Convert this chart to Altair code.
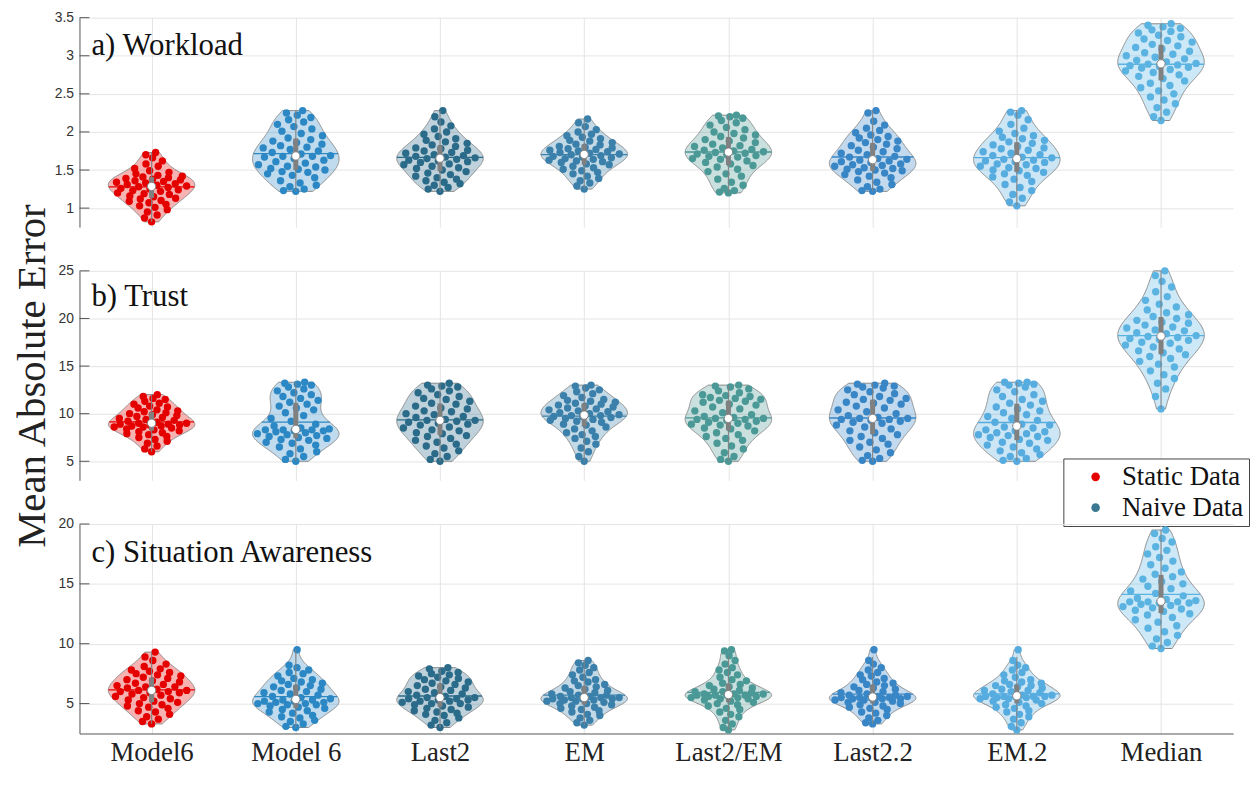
import json
import altair as alt
import numpy as np
import pandas as pd

MODELS = ["Model6", "Model 6", "Last2", "EM", "Last2/EM", "Last2.2", "EM.2", "Median"]
MODEL_COLORS = ["#e50000", "#2c88c4", "#2b6b8a", "#3a80ab", "#4b9996", "#3886c6", "#56acdf", "#5bb3e2"]
LEGEND_LABELS = ["Static Data", "Naive Data"]
LEGEND_COLORS = ["#e50000", "#3a7891"]
PANEL_TITLES = ["a) Workload", "b) Trust", "c) Situation Awareness"]
Y_DOMAINS = [[0.75, 3.5], [3, 25], [2.5, 20]]
Y_TICKS = [[1, 1.5, 2, 2.5, 3, 3.5], [5, 10, 15, 20, 25], [5, 10, 15, 20]]
Y_TITLE = "Mean Absolute Error"

# ---- a) Workload ----
WL_MODEL6 = [0.82, 0.87, 0.91, 0.95, 0.98, 1.01, 1.03, 1.05, 1.07, 1.09, 1.10, 1.12, 1.13, 1.15, 1.16, 1.18, 1.19, 1.20, 1.22, 1.23, 1.24, 1.25, 1.26, 1.27, 1.28, 1.29, 1.30, 1.31, 1.32, 1.33, 1.34, 1.35, 1.36, 1.37, 1.38, 1.39, 1.40, 1.41, 1.42, 1.43, 1.45, 1.47, 1.49, 1.52, 1.55, 1.58, 1.62, 1.66, 1.70, 1.73]
WL_MODEL_6 = [1.22, 1.23, 1.25, 1.28, 1.30, 1.33, 1.36, 1.40, 1.43, 1.45, 1.47, 1.48, 1.50, 1.51, 1.52, 1.54, 1.55, 1.57, 1.59, 1.61, 1.63, 1.65, 1.67, 1.68, 1.68, 1.69, 1.71, 1.73, 1.75, 1.77, 1.79, 1.80, 1.82, 1.84, 1.86, 1.88, 1.90, 1.92, 1.95, 1.98, 2.01, 2.04, 2.07, 2.10, 2.13, 2.16, 2.19, 2.22, 2.25, 2.28]
WL_LAST2 = [1.22, 1.25, 1.27, 1.30, 1.32, 1.34, 1.36, 1.38, 1.40, 1.42, 1.44, 1.46, 1.48, 1.50, 1.52, 1.53, 1.55, 1.57, 1.58, 1.60, 1.61, 1.62, 1.63, 1.64, 1.65, 1.66, 1.67, 1.68, 1.69, 1.70, 1.72, 1.73, 1.75, 1.76, 1.78, 1.79, 1.81, 1.83, 1.85, 1.87, 1.89, 1.91, 1.94, 1.97, 2.00, 2.04, 2.08, 2.13, 2.20, 2.28]
WL_EM = [1.25, 1.29, 1.33, 1.36, 1.39, 1.42, 1.45, 1.47, 1.49, 1.51, 1.53, 1.55, 1.57, 1.58, 1.60, 1.61, 1.62, 1.63, 1.64, 1.65, 1.66, 1.67, 1.68, 1.69, 1.70, 1.71, 1.72, 1.73, 1.74, 1.75, 1.76, 1.77, 1.78, 1.79, 1.80, 1.81, 1.83, 1.84, 1.86, 1.88, 1.89, 1.91, 1.93, 1.95, 1.97, 2.00, 2.03, 2.07, 2.12, 2.17]
WL_LAST2_EM = [1.20, 1.21, 1.23, 1.26, 1.30, 1.34, 1.38, 1.42, 1.45, 1.48, 1.51, 1.54, 1.56, 1.58, 1.60, 1.62, 1.64, 1.65, 1.67, 1.68, 1.69, 1.70, 1.71, 1.72, 1.73, 1.74, 1.75, 1.76, 1.77, 1.79, 1.81, 1.82, 1.84, 1.86, 1.88, 1.90, 1.92, 1.94, 1.96, 1.98, 2.00, 2.03, 2.06, 2.09, 2.12, 2.15, 2.18, 2.20, 2.21, 2.22]
WL_LAST2_2 = [1.22, 1.23, 1.25, 1.28, 1.31, 1.34, 1.37, 1.40, 1.42, 1.44, 1.46, 1.48, 1.49, 1.50, 1.51, 1.52, 1.53, 1.55, 1.56, 1.57, 1.58, 1.60, 1.61, 1.62, 1.63, 1.64, 1.65, 1.67, 1.68, 1.70, 1.72, 1.74, 1.76, 1.78, 1.80, 1.82, 1.84, 1.86, 1.88, 1.90, 1.92, 1.94, 1.96, 1.99, 2.02, 2.05, 2.09, 2.14, 2.25, 2.28]
WL_EM_2 = [1.03, 1.08, 1.13, 1.18, 1.23, 1.27, 1.31, 1.35, 1.38, 1.41, 1.43, 1.45, 1.47, 1.49, 1.50, 1.52, 1.53, 1.55, 1.57, 1.58, 1.60, 1.61, 1.62, 1.63, 1.64, 1.66, 1.67, 1.69, 1.70, 1.72, 1.74, 1.76, 1.78, 1.79, 1.81, 1.83, 1.85, 1.87, 1.89, 1.91, 1.93, 1.95, 1.98, 2.01, 2.05, 2.10, 2.16, 2.22, 2.26, 2.28]
WL_MEDIAN = [2.15, 2.20, 2.26, 2.32, 2.37, 2.42, 2.46, 2.50, 2.54, 2.58, 2.61, 2.64, 2.67, 2.70, 2.73, 2.75, 2.78, 2.80, 2.82, 2.84, 2.85, 2.86, 2.87, 2.88, 2.89, 2.90, 2.92, 2.94, 2.96, 2.98, 3.00, 3.02, 3.04, 3.06, 3.09, 3.11, 3.13, 3.15, 3.18, 3.20, 3.22, 3.25, 3.27, 3.30, 3.32, 3.34, 3.36, 3.38, 3.40, 3.42]

# ---- b) Trust ----
TR_MODEL6 = [6.0, 6.3, 6.6, 6.9, 7.1, 7.3, 7.5, 7.6, 7.8, 7.9, 8.0, 8.1, 8.2, 8.3, 8.4, 8.5, 8.6, 8.6, 8.7, 8.7, 8.8, 8.8, 8.9, 8.9, 9.0, 9.0, 9.1, 9.2, 9.3, 9.4, 9.5, 9.6, 9.7, 9.8, 9.9, 10.0, 10.1, 10.2, 10.3, 10.4, 10.6, 10.7, 10.8, 11.0, 11.1, 11.3, 11.5, 11.6, 11.8, 12.0]
TR_MODEL_6 = [5.0, 5.2, 5.5, 5.8, 6.0, 6.3, 6.5, 6.7, 6.9, 7.0, 7.2, 7.3, 7.4, 7.5, 7.6, 7.7, 7.8, 7.9, 8.0, 8.1, 8.2, 8.2, 8.3, 8.3, 8.3, 8.4, 8.5, 8.7, 8.9, 9.2, 9.5, 9.8, 10.1, 10.4, 10.6, 10.8, 11.0, 11.2, 11.4, 11.6, 11.8, 12.0, 12.2, 12.4, 12.6, 12.8, 13.0, 13.1, 13.2, 13.3]
TR_LAST2 = [5.0, 5.2, 5.5, 5.8, 6.1, 6.4, 6.6, 6.8, 7.0, 7.2, 7.4, 7.6, 7.7, 7.9, 8.0, 8.2, 8.3, 8.5, 8.6, 8.8, 8.9, 9.0, 9.1, 9.2, 9.3, 9.3, 9.4, 9.6, 9.7, 9.9, 10.0, 10.2, 10.3, 10.5, 10.6, 10.8, 11.0, 11.1, 11.3, 11.5, 11.6, 11.8, 12.0, 12.2, 12.4, 12.6, 12.8, 12.9, 13.0, 13.2]
TR_EM = [5.0, 5.5, 6.0, 6.4, 6.8, 7.1, 7.4, 7.6, 7.8, 8.0, 8.2, 8.4, 8.6, 8.8, 8.9, 9.1, 9.2, 9.3, 9.4, 9.5, 9.6, 9.7, 9.7, 9.8, 9.8, 9.9, 10.0, 10.1, 10.2, 10.3, 10.4, 10.5, 10.6, 10.7, 10.8, 10.9, 11.0, 11.1, 11.2, 11.3, 11.4, 11.5, 11.7, 11.9, 12.1, 12.3, 12.5, 12.7, 12.9, 13.0]
TR_LAST2_EM = [5.0, 5.2, 5.5, 5.9, 6.3, 6.6, 6.9, 7.2, 7.4, 7.6, 7.8, 8.0, 8.2, 8.4, 8.5, 8.7, 8.8, 8.9, 9.0, 9.1, 9.2, 9.3, 9.4, 9.4, 9.5, 9.5, 9.6, 9.7, 9.9, 10.1, 10.3, 10.5, 10.7, 10.9, 11.0, 11.2, 11.3, 11.4, 11.5, 11.6, 11.7, 11.8, 11.9, 12.0, 12.2, 12.4, 12.6, 12.8, 12.9, 13.0]
TR_LAST2_2 = [5.0, 5.1, 5.3, 5.6, 5.9, 6.2, 6.5, 6.8, 7.0, 7.2, 7.4, 7.6, 7.8, 8.0, 8.2, 8.4, 8.6, 8.8, 9.0, 9.1, 9.2, 9.3, 9.4, 9.4, 9.5, 9.5, 9.6, 9.8, 10.0, 10.2, 10.4, 10.6, 10.8, 11.0, 11.1, 11.2, 11.4, 11.5, 11.6, 11.8, 12.0, 12.1, 12.3, 12.5, 12.7, 12.8, 12.9, 13.0, 13.1, 13.2]
TR_EM_2 = [5.0, 5.1, 5.3, 5.5, 5.7, 5.9, 6.1, 6.3, 6.5, 6.7, 6.9, 7.0, 7.2, 7.3, 7.5, 7.6, 7.7, 7.8, 7.9, 8.0, 8.1, 8.2, 8.3, 8.5, 8.6, 8.8, 8.9, 9.1, 9.3, 9.5, 9.7, 9.9, 10.1, 10.3, 10.5, 10.7, 10.9, 11.1, 11.3, 11.5, 11.8, 12.0, 12.3, 12.5, 12.8, 13.0, 13.1, 13.2, 13.3, 13.3]
TR_MEDIAN = [10.5, 11.8, 12.6, 13.2, 13.7, 14.1, 14.5, 14.9, 15.2, 15.5, 15.8, 16.0, 16.2, 16.4, 16.6, 16.8, 17.0, 17.2, 17.4, 17.5, 17.7, 17.8, 17.9, 18.0, 18.1, 18.2, 18.4, 18.5, 18.7, 18.8, 19.0, 19.1, 19.3, 19.5, 19.6, 19.8, 20.0, 20.2, 20.4, 20.6, 20.9, 21.2, 21.5, 21.9, 22.3, 22.8, 23.3, 23.9, 24.5, 25.0]

# ---- c) Situation Awareness ----
SA_MODEL6 = [3.3, 3.5, 3.7, 3.9, 4.1, 4.3, 4.4, 4.6, 4.7, 4.8, 4.9, 5.0, 5.1, 5.2, 5.3, 5.4, 5.5, 5.6, 5.7, 5.8, 5.9, 5.9, 6.0, 6.0, 6.1, 6.1, 6.2, 6.3, 6.4, 6.4, 6.5, 6.6, 6.7, 6.8, 6.9, 7.0, 7.1, 7.2, 7.3, 7.4, 7.5, 7.6, 7.7, 7.8, 7.9, 8.1, 8.3, 8.6, 8.9, 9.3]
SA_MODEL_6 = [3.0, 3.1, 3.3, 3.5, 3.6, 3.8, 3.9, 4.0, 4.2, 4.3, 4.4, 4.5, 4.6, 4.7, 4.8, 4.9, 4.9, 5.0, 5.0, 5.1, 5.1, 5.2, 5.2, 5.3, 5.3, 5.4, 5.5, 5.6, 5.7, 5.8, 5.9, 6.0, 6.1, 6.2, 6.3, 6.4, 6.5, 6.6, 6.7, 6.8, 6.9, 7.0, 7.1, 7.3, 7.5, 7.6, 7.8, 8.0, 8.2, 9.5]
SA_LAST2 = [3.0, 3.2, 3.4, 3.6, 3.8, 4.0, 4.1, 4.2, 4.3, 4.4, 4.5, 4.6, 4.7, 4.8, 4.9, 5.0, 5.0, 5.1, 5.2, 5.2, 5.3, 5.3, 5.4, 5.4, 5.5, 5.5, 5.6, 5.7, 5.8, 5.9, 6.0, 6.1, 6.2, 6.3, 6.4, 6.5, 6.6, 6.7, 6.8, 6.9, 7.0, 7.1, 7.2, 7.3, 7.4, 7.5, 7.6, 7.7, 7.9, 8.0]
SA_EM = [3.2, 3.4, 3.6, 3.8, 4.0, 4.1, 4.3, 4.4, 4.5, 4.6, 4.7, 4.8, 4.9, 5.0, 5.0, 5.1, 5.2, 5.2, 5.3, 5.3, 5.4, 5.4, 5.4, 5.5, 5.5, 5.5, 5.6, 5.6, 5.7, 5.7, 5.8, 5.9, 6.0, 6.1, 6.2, 6.3, 6.4, 6.5, 6.6, 6.8, 6.9, 7.0, 7.2, 7.4, 7.6, 7.8, 8.0, 8.2, 8.4, 8.6]
SA_LAST2_EM = [2.8, 3.0, 3.3, 3.6, 3.9, 4.1, 4.3, 4.5, 4.6, 4.8, 4.9, 5.0, 5.1, 5.2, 5.3, 5.4, 5.4, 5.5, 5.5, 5.6, 5.6, 5.7, 5.7, 5.7, 5.7, 5.8, 5.8, 5.8, 5.9, 6.0, 6.0, 6.1, 6.2, 6.3, 6.4, 6.5, 6.6, 6.7, 6.9, 7.0, 7.2, 7.4, 7.6, 7.8, 8.0, 8.3, 8.6, 9.0, 9.4, 9.5]
SA_LAST2_2 = [3.3, 3.4, 3.6, 3.8, 4.0, 4.2, 4.3, 4.5, 4.6, 4.7, 4.8, 4.9, 5.0, 5.1, 5.1, 5.2, 5.3, 5.3, 5.4, 5.4, 5.4, 5.5, 5.5, 5.5, 5.5, 5.6, 5.6, 5.7, 5.7, 5.8, 5.9, 6.0, 6.1, 6.2, 6.3, 6.4, 6.5, 6.6, 6.7, 6.8, 7.0, 7.1, 7.3, 7.4, 7.6, 7.8, 8.0, 8.3, 8.6, 9.5]
SA_EM_2 = [2.8, 3.1, 3.4, 3.7, 3.9, 4.1, 4.3, 4.4, 4.6, 4.7, 4.8, 4.9, 5.0, 5.1, 5.2, 5.3, 5.4, 5.4, 5.5, 5.5, 5.6, 5.6, 5.6, 5.6, 5.6, 5.7, 5.7, 5.8, 5.9, 6.0, 6.1, 6.1, 6.2, 6.3, 6.4, 6.5, 6.5, 6.6, 6.7, 6.8, 6.9, 7.0, 7.2, 7.4, 7.6, 7.8, 8.0, 8.2, 8.6, 9.5]
SA_MEDIAN = [9.6, 9.8, 10.1, 10.4, 10.7, 11.0, 11.3, 11.5, 11.8, 12.0, 12.2, 12.4, 12.5, 12.7, 12.8, 12.9, 13.0, 13.1, 13.2, 13.3, 13.4, 13.4, 13.5, 13.5, 13.5, 13.6, 13.7, 13.8, 14.0, 14.2, 14.4, 14.6, 14.8, 15.0, 15.2, 15.4, 15.6, 15.8, 16.0, 16.3, 16.6, 16.9, 17.2, 17.5, 17.8, 18.1, 18.5, 18.8, 19.2, 19.5]

WORKLOAD = [WL_MODEL6, WL_MODEL_6, WL_LAST2, WL_EM, WL_LAST2_EM, WL_LAST2_2, WL_EM_2, WL_MEDIAN]
TRUST = [TR_MODEL6, TR_MODEL_6, TR_LAST2, TR_EM, TR_LAST2_EM, TR_LAST2_2, TR_EM_2, TR_MEDIAN]
SITUATION = [SA_MODEL6, SA_MODEL_6, SA_LAST2, SA_EM, SA_LAST2_EM, SA_LAST2_2, SA_EM_2, SA_MEDIAN]

# ---- styling ----
W, H = 1162, 211
SPACING = 44
HALF = 0.3
BW_FACTOR = 1.0
GRID = "#e4e4e4"
AXIS_COLOR = "#555555"
SERIF = "Liberation Serif"
SANS = "Liberation Sans"
LABEL_EXPR = json.dumps(MODELS) + "[datum.value - 1]"
TITLE_OFFSETS = [-52, -111, -52]


def kde(at, v, h):
    at = np.asarray(at, float)
    return np.exp(-0.5 * ((at[:, None] - v[None, :]) / h) ** 2).sum(axis=1)


def build_panel(k, groups, show_x, y_title, with_legend):
    xs = alt.Scale(domain=[0.5, 8.5], nice=False, zero=False)
    ys = alt.Scale(domain=Y_DOMAINS[k], nice=False, zero=False)
    xaxis = alt.Axis(values=list(range(1, 9)), grid=True, ticks=False, domain=show_x,
                     labels=show_x, labelExpr=LABEL_EXPR, labelFont=SERIF, labelFontSize=27,
                     labelColor="#222222", labelPadding=6, title=None, domainColor=AXIS_COLOR)
    ykw = dict(values=Y_TICKS[k], format="~g", grid=True, ticks=False, domainColor=AXIS_COLOR,
               labelFont=SANS, labelFontSize=14, labelColor="#333333", labelPadding=6)
    if y_title:
        ykw.update(title=y_title, titleFont=SERIF, titleFontSize=41, titleFontWeight="normal",
                   titleColor="#222222", titlePadding=5)
    else:
        ykw["title"] = None
    yaxis = alt.Axis(**ykw)

    def X(f):
        return alt.X(f, type="quantitative", scale=xs, axis=xaxis)

    def Y(f):
        return alt.Y(f, type="quantitative", scale=ys, axis=yaxis)

    color = alt.Color("model:N", scale=alt.Scale(domain=MODELS, range=MODEL_COLORS), legend=None)

    pts_rows, stat_rows, bws = [], [], []
    for i, (m, vals) in enumerate(zip(MODELS, groups)):
        v = np.asarray(vals, float)
        n = len(v)
        idx = i + 1
        q1, med, q3 = np.percentile(v, [25, 50, 75])
        sd = v.std(ddof=1)
        s = min(sd, (q3 - q1) / 1.34) if q3 > q1 else sd
        h = BW_FACTOR * s * n ** -0.2
        bws.append((m, idx, h, float(v.min()), float(v.max())))
        grid = np.linspace(v.min(), v.max(), 150)
        dmax = kde(grid, v, h).max()
        hw = HALF * kde(v, v, h) / dmax
        u = (0.5 + np.arange(n) * 0.6180339887) % 1.0
        xj = idx + (2 * u - 1) * hw * 0.9
        for val, x in zip(v, xj):
            pts_rows.append({"model": m, "value": float(val), "xj": float(x)})
        mean = float(v.mean())
        mhw = float(HALF * kde([mean], v, h)[0] / dmax)
        iqr = q3 - q1
        wlo = max(q1 - 1.5 * iqr, float(v.min()))
        whi = min(q3 + 1.5 * iqr, float(v.max()))
        stat_rows.append({"model": m, "idx": idx, "med": float(med), "q1": float(q1), "q3": float(q3),
                          "wlo": wlo, "whi": whi, "mean": mean, "mlo": idx - mhw, "mhi": idx + mhw})
    pts = pd.DataFrame(pts_rows)
    stats = pd.DataFrame(stat_rows)

    layers = []
    for m, idx, h, vmin, vmax in bws:
        layers.append(
            alt.Chart(pts)
            .transform_filter(alt.datum.model == m)
            .transform_density("value", as_=["value", "dens"], bandwidth=h, extent=[vmin, vmax],
                               steps=150, groupby=["model"])
            .transform_joinaggregate(dmax="max(dens)")
            .transform_calculate(lo=f"{idx} - {HALF} * datum.dens / datum.dmax",
                                 hi=f"{idx} + {HALF} * datum.dens / datum.dmax")
            .mark_area(orient="horizontal", fillOpacity=0.3, stroke="#8a8a8a", strokeWidth=1)
            .encode(y=Y("value"), x=X("lo"), x2=alt.X2("hi"), color=color)
        )
    layers.append(
        alt.Chart(pts).mark_circle(size=55, opacity=1)
        .encode(x=X("xj"), y=Y("value"), color=color)
    )
    layers.append(
        alt.Chart(stats).mark_rule(strokeWidth=1.3)
        .encode(x=X("mlo"), x2=alt.X2("mhi"), y=Y("mean"), color=color)
    )
    layers.append(
        alt.Chart(stats).mark_rule(strokeWidth=1, color="#808080")
        .encode(x=X("idx"), y=Y("wlo"), y2=alt.Y2("whi"))
    )
    layers.append(
        alt.Chart(stats).mark_rule(strokeWidth=5, color="#808080")
        .encode(x=X("idx"), y=Y("q1"), y2=alt.Y2("q3"))
    )
    layers.append(
        alt.Chart(stats).mark_point(filled=True, fill="white", stroke="#808080", strokeWidth=1,
                                    size=70, opacity=1, shape="circle")
        .encode(x=X("idx"), y=Y("med"))
    )
    layers.append(
        alt.Chart(pd.DataFrame({"t": Y_TICKS[k]})).mark_rule(color=AXIS_COLOR, strokeWidth=1)
        .encode(y=Y("t"), x=alt.value(0), x2=alt.value(10))
    )
    if with_legend:
        layers.append(
            alt.Chart(pd.DataFrame({"dtype": LEGEND_LABELS}))
            .transform_filter("false")
            .mark_circle(opacity=1)
            .encode(fill=alt.Fill("dtype:N",
                                  scale=alt.Scale(domain=LEGEND_LABELS, range=LEGEND_COLORS),
                                  legend=alt.Legend(orient="none", legendX=991, legendY=189,
                                                    title=None, fillColor="white",
                                                    strokeColor="#444444", padding=5,
                                                    labelFont=SERIF, labelFontSize=27,
                                                    labelColor="#111111", symbolType="circle",
                                                    symbolSize=75, symbolStrokeWidth=0,
                                                    symbolOffset=14, labelOffset=13,
                                                    rowPadding=3)))
        )
    title = alt.TitleParams(text=PANEL_TITLES[k], anchor="start", frame="group", orient="top",
                            offset=TITLE_OFFSETS[k], dx=12, font=SERIF, fontSize=31,
                            fontWeight="normal", color="#111111")
    return alt.layer(*layers).properties(width=W, height=H, title=title)


pa = build_panel(0, WORKLOAD, False, None, False)
pb = build_panel(1, TRUST, False, Y_TITLE, True)
pc = build_panel(2, SITUATION, True, None, False)

chart = (
    alt.vconcat(pa, pb, pc, spacing=SPACING, bounds="flush")
    .resolve_scale(color="independent", fill="independent")
    .properties(padding={"left": 3, "top": 0, "right": 0, "bottom": 0}, background="white")
    .configure_view(stroke=None)
    .configure_axis(gridColor=GRID, gridWidth=1, domainWidth=1)
)

chart.save("out.html", embed_options={"renderer": "svg", "actions": False})
